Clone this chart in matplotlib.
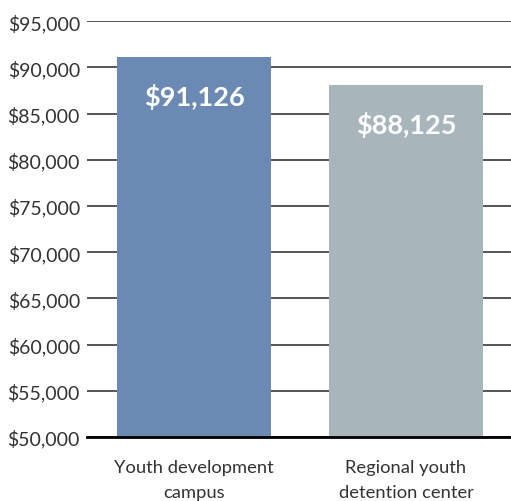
import matplotlib.pyplot as plt
from matplotlib.ticker import FuncFormatter

categories = ["Youth development\ncampus", "Regional youth\ndetention center"]
values = [91126, 88125]
colors = ["#6a8ab4", "#a8b6bc"]
yticks = list(range(50000, 95001, 5000))

plt.rcParams['font.family'] = ['Lato', 'DejaVu Sans']

fig = plt.figure(figsize=(5.11, 5.02), dpi=100)
ax = fig.add_axes([0.170, 0.1275, 0.830, 0.8285])

x = range(len(categories))
ax.bar(x, values, width=0.726, color=colors, zorder=3)

for i, v in enumerate(values):
    ax.annotate("${:,}".format(v), (i, v), xytext=(0, -28), textcoords="offset points",
                ha="center", va="center", color="white", fontsize=19.5, fontweight="bold",
                zorder=4)

ax.set_ylim(50000, 95000)
ax.set_xlim(-0.505, 1.495)
ax.set_yticks(yticks)
ax.yaxis.set_major_formatter(FuncFormatter(lambda v, p: "${:,.0f}".format(v)))
ax.set_xticks(list(x))
ax.set_xticklabels(categories, fontsize=13.2, color="#333333", linespacing=1.65)

ax.grid(axis="y", color="#555555", linewidth=1.4, zorder=0)
ax.tick_params(axis="y", length=0, pad=5, labelsize=14, labelcolor="#333333")
ax.tick_params(axis="x", length=0, pad=16)
for s in ["top", "right", "left"]:
    ax.spines[s].set_visible(False)
ax.spines["bottom"].set_color("black")
ax.spines["bottom"].set_linewidth(2)
ax.spines["bottom"].set_zorder(5)

fig.savefig("out.png", dpi=100)
